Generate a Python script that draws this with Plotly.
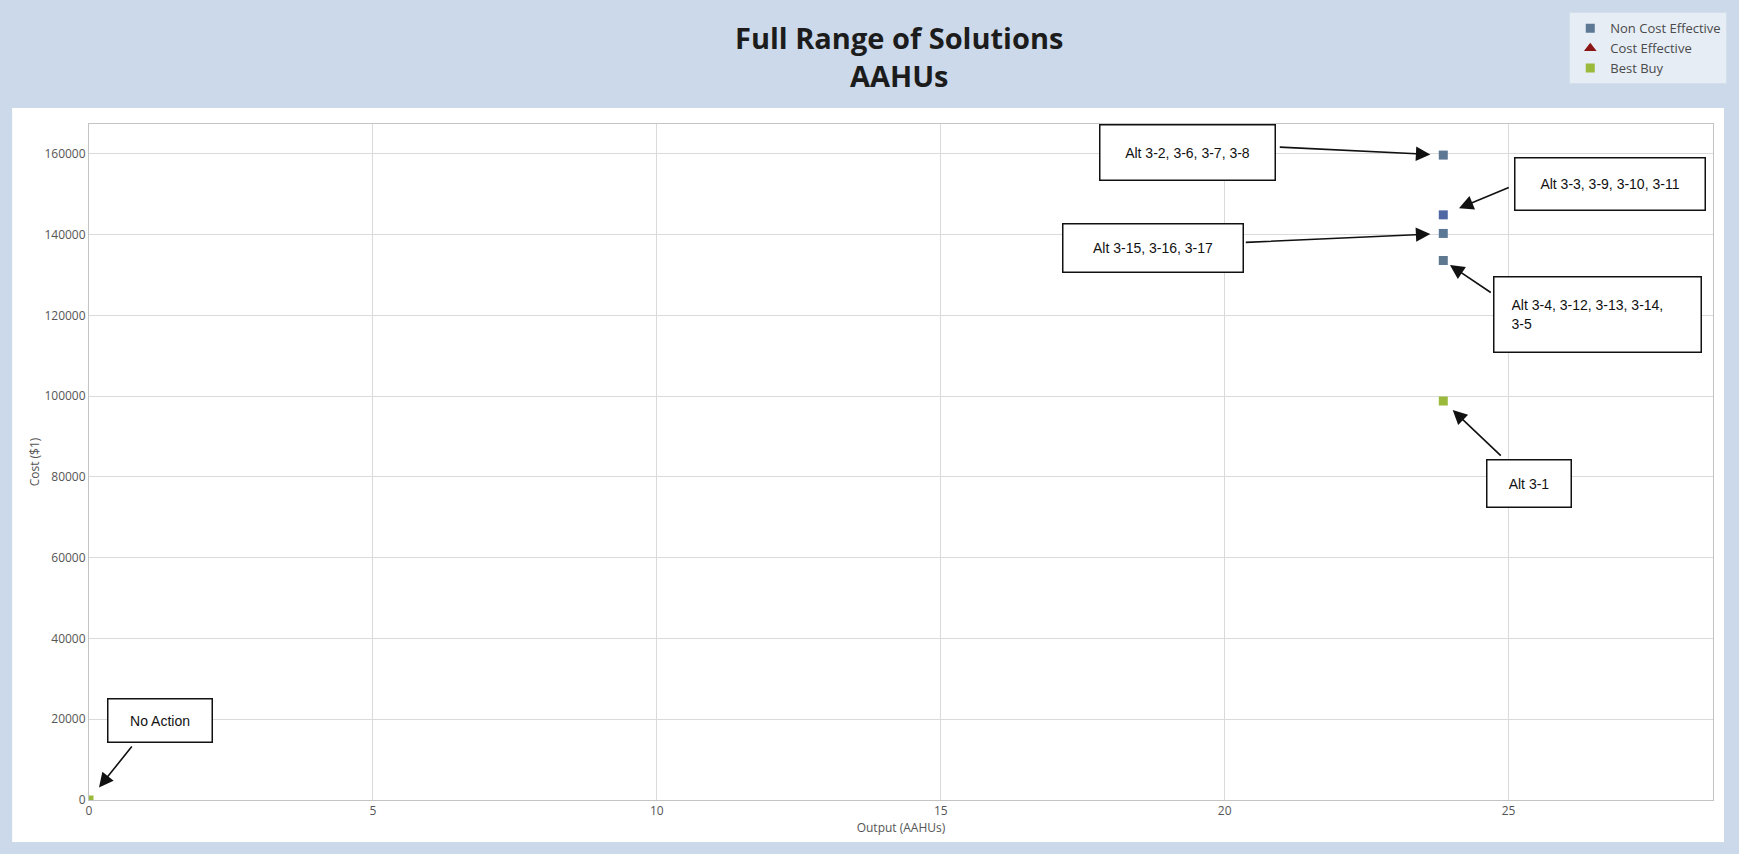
import plotly.graph_objects as go

# Output (AAHUs) and cost ($1) for each plan category
non_ce_x = [23.85, 23.85, 23.85, 23.85]
non_ce_y = [159700, 144900, 140300, 133600]
non_ce_colors = ["#5d7894", "#4f68a4", "#5b7896", "#5e7890"]

ce_x = [None]
ce_y = [None]

best_buy_x = [0, 23.85]
best_buy_y = [0, 98800]

x_ticks = [0, 5, 10, 15, 20, 25]
y_ticks = [0, 20000, 40000, 60000, 80000, 100000, 120000, 140000, 160000]

title_lines = ["Full Range of Solutions", "AAHUs"]

# Callout text, the plan it points at, and its box / arrow geometry (pixels)
callout_text = [
    "Alt 3-2, 3-6, 3-7, 3-8",
    "Alt 3-3, 3-9, 3-10, 3-11",
    "Alt 3-15, 3-16, 3-17",
    "Alt 3-4, 3-12, 3-13, 3-14,<br>3-5",
    "Alt 3-1",
    "No Action",
]
callout_x = [23.85, 23.85, 23.85, 23.85, 23.85, 0]
callout_y = [159700, 144900, 140300, 133600, 98800, 0]
box_shift = [(-256, 3), (167, 31), (-290, -15), (154, -54), (86, -82), (71, 80)]
box_size = [(177, 57), (192, 54), (182, 50), (209, 77), (86, 49), (106, 45)]
box_align = ["center", "center", "center", "left", "center", "center"]
box_pad = [0, 0, 0, 17, 0, 0]
arrow_tail = [(-165, -8), (67, -28), (-199, 9), (49, 33), (59, 56), (44, -55)]
arrow_standoff = [13, 17, 13, 8, 13, 16]

W, H = 1739, 854
ML, MR, MT, MB = 89, 23, 122, 54
PW, PH = W - ML - MR, H - MT - MB


def px_to_paper(px, py):
    return (px - ML) / PW, (H - MB - py) / PH


fig = go.Figure()

fig.add_trace(go.Scatter(
    x=non_ce_x, y=non_ce_y, mode="markers", name="Non Cost Effective",
    marker=dict(symbol="square", size=9, color=non_ce_colors,
                line=dict(width=0)),
))
fig.add_trace(go.Scatter(
    x=ce_x, y=ce_y, mode="markers", name="Cost Effective",
    marker=dict(symbol="triangle-up", size=11, color="#8b1414"),
))
fig.add_trace(go.Scatter(
    x=best_buy_x, y=best_buy_y, mode="markers", name="Best Buy",
    marker=dict(symbol="square", size=9, color="#9bba3c",
                line=dict(width=0)),
))

annotations = []

# two-line chart heading in the blue header band
tx, ty = px_to_paper(900, 54)
annotations.append(dict(
    x=tx, y=ty, xref="paper", yref="paper", xanchor="center",
    yanchor="middle", text="<b>" + "<br>".join(title_lines) + "</b>",
    showarrow=False,
    font=dict(family="Open Sans, sans-serif", size=29, color="#1c1c1c"),
))

for i, txt in enumerate(callout_text):
    bw, bh = box_size[i]
    pad = box_pad[i]
    annotations.append(dict(
        x=callout_x[i], y=callout_y[i], xref="x", yref="y",
        text=txt, showarrow=False,
        xshift=box_shift[i][0], yshift=box_shift[i][1],
        width=bw - 3 - 2 * pad, height=bh - 3 - 2 * pad,
        align=box_align[i], valign="middle",
        bgcolor="white", bordercolor="#111111", borderwidth=1.5,
        borderpad=pad,
        font=dict(family="Liberation Sans, Arial, sans-serif", size=14,
                  color="#111111"),
    ))
    annotations.append(dict(
        x=callout_x[i], y=callout_y[i], xref="x", yref="y",
        text="", showarrow=True,
        ax=arrow_tail[i][0], ay=arrow_tail[i][1],
        axref="pixel", ayref="pixel",
        arrowhead=2, arrowsize=1.8, arrowwidth=1.6, arrowcolor="#111111",
        standoff=arrow_standoff[i],
    ))

# white chart panel sitting inside the blue frame
x0, y0 = px_to_paper(12, 842)
x1, y1 = px_to_paper(1727, 106)
shapes = [dict(type="rect", xref="paper", yref="paper",
               x0=x0, y0=y0, x1=x1, y1=y1,
               fillcolor="white", line=dict(width=0), layer="below")]

lx, ly = px_to_paper(1572, 10)

fig.update_layout(
    width=W, height=H,
    margin=dict(l=ML, r=MR, t=MT, b=MB, pad=0),
    paper_bgcolor="#cbd9ea",
    plot_bgcolor="white",
    font=dict(family="Open Sans, sans-serif", size=12, color="#555555"),
    showlegend=True,
    legend=dict(
        x=lx, y=ly, xanchor="left", yanchor="top",
        bgcolor="#e6edf5", bordercolor="#d5dfeb", borderwidth=1,
        font=dict(family="Open Sans, sans-serif", size=13, color="#4a4a4a"),
        itemwidth=30, tracegroupgap=0,
    ),
    xaxis=dict(
        range=[0, 28.6], tickvals=x_ticks, ticks="",
        showgrid=True, gridcolor="#dadada", gridwidth=1,
        showline=True, linecolor="#c4c4c4", linewidth=1, mirror=True,
        zeroline=False,
        title=dict(text="Output (AAHUs)", standoff=4,
                   font=dict(size=12, color="#555555")),
        tickfont=dict(size=12, color="#555555"),
    ),
    yaxis=dict(
        range=[0, 167400], tickvals=y_ticks, tickformat="d", ticks="",
        showgrid=True, gridcolor="#dadada", gridwidth=1,
        showline=True, linecolor="#c4c4c4", linewidth=1, mirror=True,
        zeroline=False,
        title=dict(text="Cost ($1)", standoff=2,
                   font=dict(size=12, color="#555555")),
        tickfont=dict(size=12, color="#555555"),
        ticklabelstandoff=0,
    ),
    annotations=annotations,
    shapes=shapes,
)

fig.write_html("out.html")
